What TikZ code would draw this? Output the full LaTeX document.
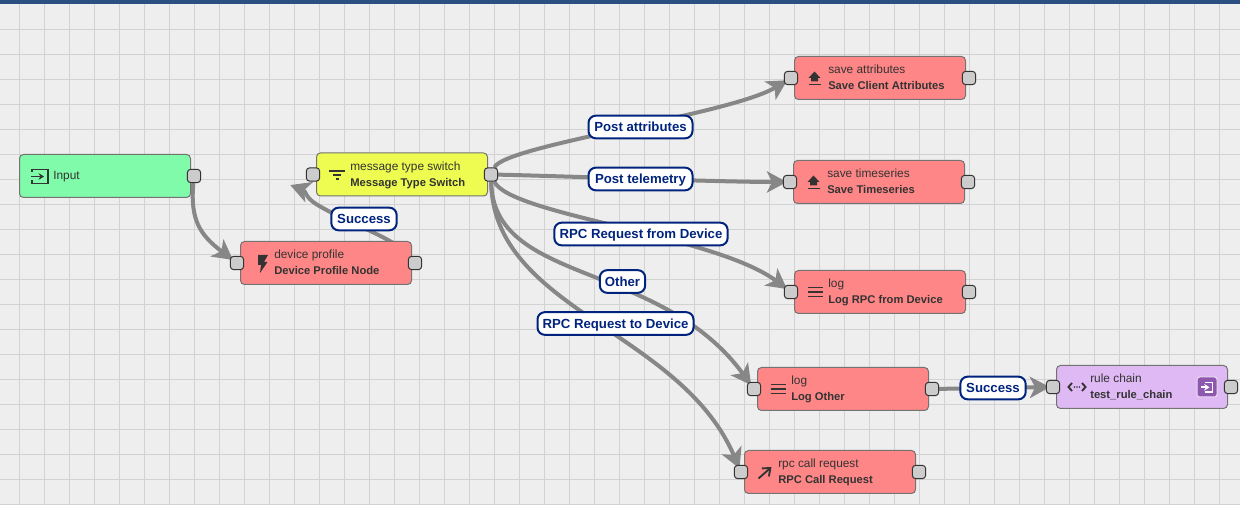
\documentclass[tikz,border=0pt]{standalone}
\usepackage{fontspec}
\setmainfont{Liberation Sans}
\usetikzlibrary{arrows.meta}
\pgfdeclarelayer{edges}
\pgfsetlayers{edges,main}
\definecolor{canvas}{HTML}{EEEEEE}
\definecolor{gridline}{HTML}{D2D2D2}
\definecolor{topbar}{HTML}{2C4F82}
\definecolor{edgegray}{HTML}{878787}
\definecolor{labelblue}{HTML}{00247D}
\definecolor{inputgreen}{HTML}{7FFBAA}
\definecolor{filteryellow}{HTML}{EEFB50}
\definecolor{actionred}{HTML}{FF8686}
\definecolor{chainpurple}{HTML}{DFB9F3}
\definecolor{chainbadge}{HTML}{8E57B0}
\definecolor{inktext}{HTML}{333333}
\tikzset{
  rulebox/.style={draw=black!55, line width=0.75pt, rounded corners=3pt, minimum width=128.25pt, minimum height=32.25pt, inner sep=0pt},
  port/.style={draw=black!80, line width=0.75pt, fill=black!20, rounded corners=2.5pt, minimum size=10pt, inner sep=0pt},
  ruletext/.style={anchor=base west, inner sep=0pt, text=inktext, font=\fontsize{8.9}{12}\selectfont},
  rulesub/.style={ruletext, font=\fontsize{8.4}{12}\selectfont\bfseries},
  edgelabel/.style={draw=labelblue, line width=1.5pt, fill=white, rounded corners=5.5pt, text=labelblue, minimum height=17pt, text height=8pt, text depth=1pt, inner sep=0pt, font=\fontsize{9.9}{12}\selectfont\bfseries},
  link/.style={draw=edgegray, line width=3pt, shorten >=-3pt, -{Stealth[length=15pt,width=16pt,inset=4pt]}},
  icon/.style={draw=inktext, line width=1.4pt}
}
\begin{document}
\begin{tikzpicture}[x=0.75pt,y=-0.75pt]
\useasboundingbox (0,0) rectangle (1240,505);
% rule nodes
\node[rulebox, fill=inputgreen] (input) at (105,176) {};
\node[ruletext] (inputtext) at (53,180) {Input};
\node[port] (inputout) at (194,176) {};
\foreach \name/\x/\y/\col/\top/\sub in {
  msgswitch/402/174.5/filteryellow/message type switch/Message Type Switch,
  profile/326/263/actionred/device profile/Device Profile Node,
  saveattr/880/78/actionred/save attributes/Save Client Attributes,
  savets/879/182/actionred/save timeseries/Save Timeseries,
  logrpc/880/292/actionred/log/Log RPC from Device,
  logother/843/389/actionred/log/Log Other,
  rpccall/830/472/actionred/rpc call request/RPC Call Request,
  rulechain/1142/387/chainpurple/rule chain/test\_rule\_chain}{
  \node[rulebox, fill=\col] (\name) at (\x,\y) {};
  \node[ruletext] (\name top) at (\x-52,\y-4) {\top};
  \node[rulesub] (\name sub) at (\x-52,\y+12) {\sub};
  \node[port] (\name in) at (\x-89,\y) {};
  \node[port] (\name out) at (\x+89,\y) {};
}
% edge labels
\node[edgelabel, minimum width=78pt] (lblattr) at (640.5,127) {Post attributes};
\node[edgelabel, minimum width=78pt] (lbltele) at (640.5,179) {Post telemetry};
\node[edgelabel, minimum width=130pt] (lblfrom) at (641,234) {RPC Request from Device};
\node[edgelabel, minimum width=34pt] (lblother) at (622.5,281.5) {Other};
\node[edgelabel, minimum width=117pt] (lblto) at (615.5,323.5) {RPC Request to Device};
\node[edgelabel, minimum width=49pt] (lblok) at (364,219) {Success};
\node[edgelabel, minimum width=49pt] (lblchain) at (993,388) {Success};
\coordinate (backbend) at (316,204);
\coordinate (backend) at (294,186.5);
% connectors and grid stay below the boxes
\begin{pgfonlayer}{edges}
\fill[canvas] (0,0) rectangle (1240,505);
\foreach \x in {0,...,48} \draw[gridline, line width=0.75pt] (19.3+25*\x,0) -- (19.3+25*\x,505);
\foreach \y in {0,...,19} \draw[gridline, line width=0.75pt] (0,29.3+25*\y) -- (1240,29.3+25*\y);
\draw[link] (inputout) .. controls (190,220) and (200,235) .. (profilein);
\draw[link] (profileout) .. controls (395,238) and (345,222) .. (backbend) .. controls (305,197) and (306,191) .. (backend);
\draw[link] (msgswitchout) .. controls (505,145) and (730,115) .. (saveattrin);
\draw[link] (msgswitchout) .. controls (560,176) and (720,182) .. (savetsin);
\draw[link] (msgswitchout) .. controls (510,215) and (715,235) .. (logrpcin);
\draw[link] (msgswitchout) .. controls (493,285) and (660,260) .. (logotherin);
\draw[link] (msgswitchout) .. controls (493,310) and (680,330) .. (rpccallin);
\draw[link] (logotherout) -- (rulechainin);
\end{pgfonlayer}
% top bar
\fill[topbar] (0,0) rectangle (1240,4);
% icons
\draw[icon] (32,172) -- (32,169.5) -- (48,169.5) -- (48,183.5) -- (32,183.5) -- (32,180);
\draw[icon, -{Stealth[length=4pt,width=5pt]}] (31,176.5) -- (44,176.5);
\fill[inktext] (258,255) -- (268,255) -- (264,262) -- (267.5,262) -- (260,273) -- (261,265) -- (258,265) -- cycle;
\draw[icon] (329,171) -- (345,171) (333,175) -- (341,175) (335.5,179) -- (338.5,179);
\foreach \name in {saveattr,savets} {
  \begin{scope}[shift={(\name.west)}]
  \fill[inktext] (20.5,-6.5) -- (26.5,0) -- (24,0) -- (24,3.5) -- (17,3.5) -- (17,0) -- (14.5,0) -- cycle;
  \draw[icon] (14.5,6.5) -- (26.5,6.5);
  \end{scope}
}
\foreach \name in {logrpc,logother} {
  \begin{scope}[shift={(\name.west)}]
  \draw[icon] (13.5,-4.5) -- (28.5,-4.5) (13.5,0) -- (28.5,0) (13.5,4.5) -- (28.5,4.5);
  \end{scope}
}
\draw[icon, -{Straight Barb[length=5pt,width=8pt]}] (758.5,478.5) -- (771.5,467);
\draw[icon] (1072,383) -- (1068.5,387) -- (1072,391) (1082,383) -- (1085.5,387) -- (1082,391);
\fill[inktext] (1074.5,387) circle (0.8) (1077,387) circle (0.8) (1079.5,387) circle (0.8);
\draw[fill=chainbadge, draw=white!80!chainbadge, line width=0.75pt, rounded corners=2pt] (1197,377) rectangle (1217,397);
\draw[white, line width=1.3pt] (1205,382.5) -- (1212.5,382.5) -- (1212.5,392) -- (1205,392);
\draw[white, line width=1.3pt, -{Stealth[length=4pt,width=5pt]}] (1201,387.3) -- (1209.5,387.3);
\end{tikzpicture}
\end{document}
